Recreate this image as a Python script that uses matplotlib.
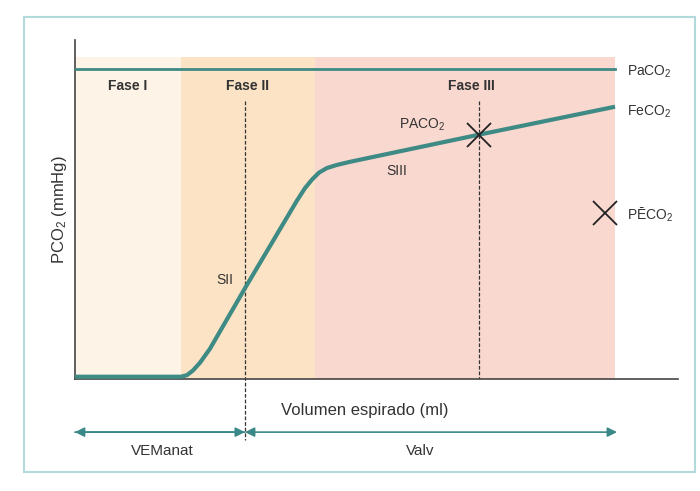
import matplotlib.pyplot as plt
from matplotlib.patches import Rectangle

plt.rcParams['font.family'] = ['Liberation Sans', 'DejaVu Sans']
plt.rcParams['mathtext.default'] = 'regular'

# phase boundaries (ml)
phase_edges = [0, 106, 240, 540]
phase_names = ['Fase I', 'Fase II', 'Fase III']
phase_colors = ['#fdf3e6', '#fce3c5', '#f9d8cf']
shade_top = 41.5

# expired CO2 curve (volume ml, PCO2 mmHg)
vol = [0, 106, 112, 118, 125, 135, 170, 222, 230, 237, 244, 252, 262, 275, 404, 540]
pco2 = [0.3, 0.3, 0.5, 1.1, 2.1, 3.9, 11.7, 23.0, 24.6, 25.7, 26.6, 27.2, 27.6, 28.0, 31.5, 35.1]

paco2 = 40.0
vd_anat = 170   # end of anatomical dead space
pa_point = (404, 31.5)
pe_point = (530, 21.4)

teal = '#3e8a84'
txt = '#333333'

fig = plt.figure(figsize=(7, 4.91), dpi=100)
ax = fig.add_axes([0.107, 0.228, 0.8616, 0.6905])
ax.set_xlim(0, 603)
ax.set_ylim(0, 43.7)

for i, name in enumerate(phase_names):
    ax.axvspan(phase_edges[i], phase_edges[i + 1], ymax=shade_top / 43.7,
               color=phase_colors[i], lw=0, zorder=0)
    ax.text((phase_edges[i] + phase_edges[i + 1]) / 2 if i < 2 else 396, 37.8, name,
            ha='center', va='center', fontsize=10, fontweight='bold', color=txt)

ax.plot([0, phase_edges[-1]], [paco2, paco2], color=teal, lw=2, zorder=3)
ax.plot(vol, pco2, color=teal, lw=3, solid_capstyle='butt', zorder=3)

ax.plot([vd_anat, vd_anat], [35.9, -7.9], color='#333333', lw=0.9,
        ls=(0, (3, 1.5)), clip_on=False, zorder=2)
ax.plot([pa_point[0], pa_point[0]], [35.9, 0], color='#333333', lw=0.9,
        ls=(0, (3, 1.5)), zorder=2)

ax.plot(*pa_point, marker='x', ms=17, mew=1.3, color='#222222', zorder=4)
ax.plot(*pe_point, marker='x', ms=17, mew=1.3, color='#222222', zorder=4)

ax.text(552, 39.6, 'PaCO$_2$', ha='left', va='center', fontsize=10, color=txt)
ax.text(552, 34.5, 'FeCO$_2$', ha='left', va='center', fontsize=10, color=txt)
ax.text(552, 21.2, 'PĒCO$_2$', ha='left', va='center', fontsize=10, color=txt)
ax.text(347, 32.8, 'PACO$_2$', ha='center', va='center', fontsize=10, color=txt)
ax.text(322, 26.8, 'SIII', ha='center', va='center', fontsize=10, color=txt)
ax.text(150, 12.8, 'SII', ha='center', va='center', fontsize=10, color=txt)

# volume arrows
arrow_kw = dict(color='#3a8888', lw=1.2, mutation_scale=14, shrinkA=0, shrinkB=0)
ax.annotate('', xy=(0, -6.84), xytext=(vd_anat, -6.84), annotation_clip=False,
            arrowprops=dict(arrowstyle='-|>', **arrow_kw))
ax.annotate('', xy=(vd_anat, -6.84), xytext=(0, -6.84), annotation_clip=False,
            arrowprops=dict(arrowstyle='-|>', **arrow_kw))
ax.annotate('', xy=(542, -6.84), xytext=(vd_anat, -6.84), annotation_clip=False,
            arrowprops=dict(arrowstyle='<|-|>', **arrow_kw))
ax.text(87, -9.3, 'VEManat', ha='center', va='center', fontsize=11, color=txt)
ax.text(345, -9.3, 'Valv', ha='center', va='center', fontsize=11, color=txt)

ax.set_xlabel('Volumen espirado (ml)', fontsize=12, color=txt)
ax.xaxis.set_label_coords(290 / 603, -3.1 / 43.7)
ax.set_ylabel('PCO$_2$ (mmHg)', fontsize=12, color=txt)
ax.yaxis.set_label_coords(-6 / 603, 0.5)

ax.set_xticks([])
ax.set_yticks([])
for s in ['top', 'right']:
    ax.spines[s].set_visible(False)
for s in ['left', 'bottom']:
    ax.spines[s].set_color('#444444')
    ax.spines[s].set_linewidth(1.2)
ax.set_facecolor('none')

fig.patches.append(Rectangle((0.0343, 0.0387), 0.9586, 0.9267, transform=fig.transFigure,
                             fill=False, edgecolor='#b3dada', lw=1.5))

fig.savefig('out.png', dpi=100)
